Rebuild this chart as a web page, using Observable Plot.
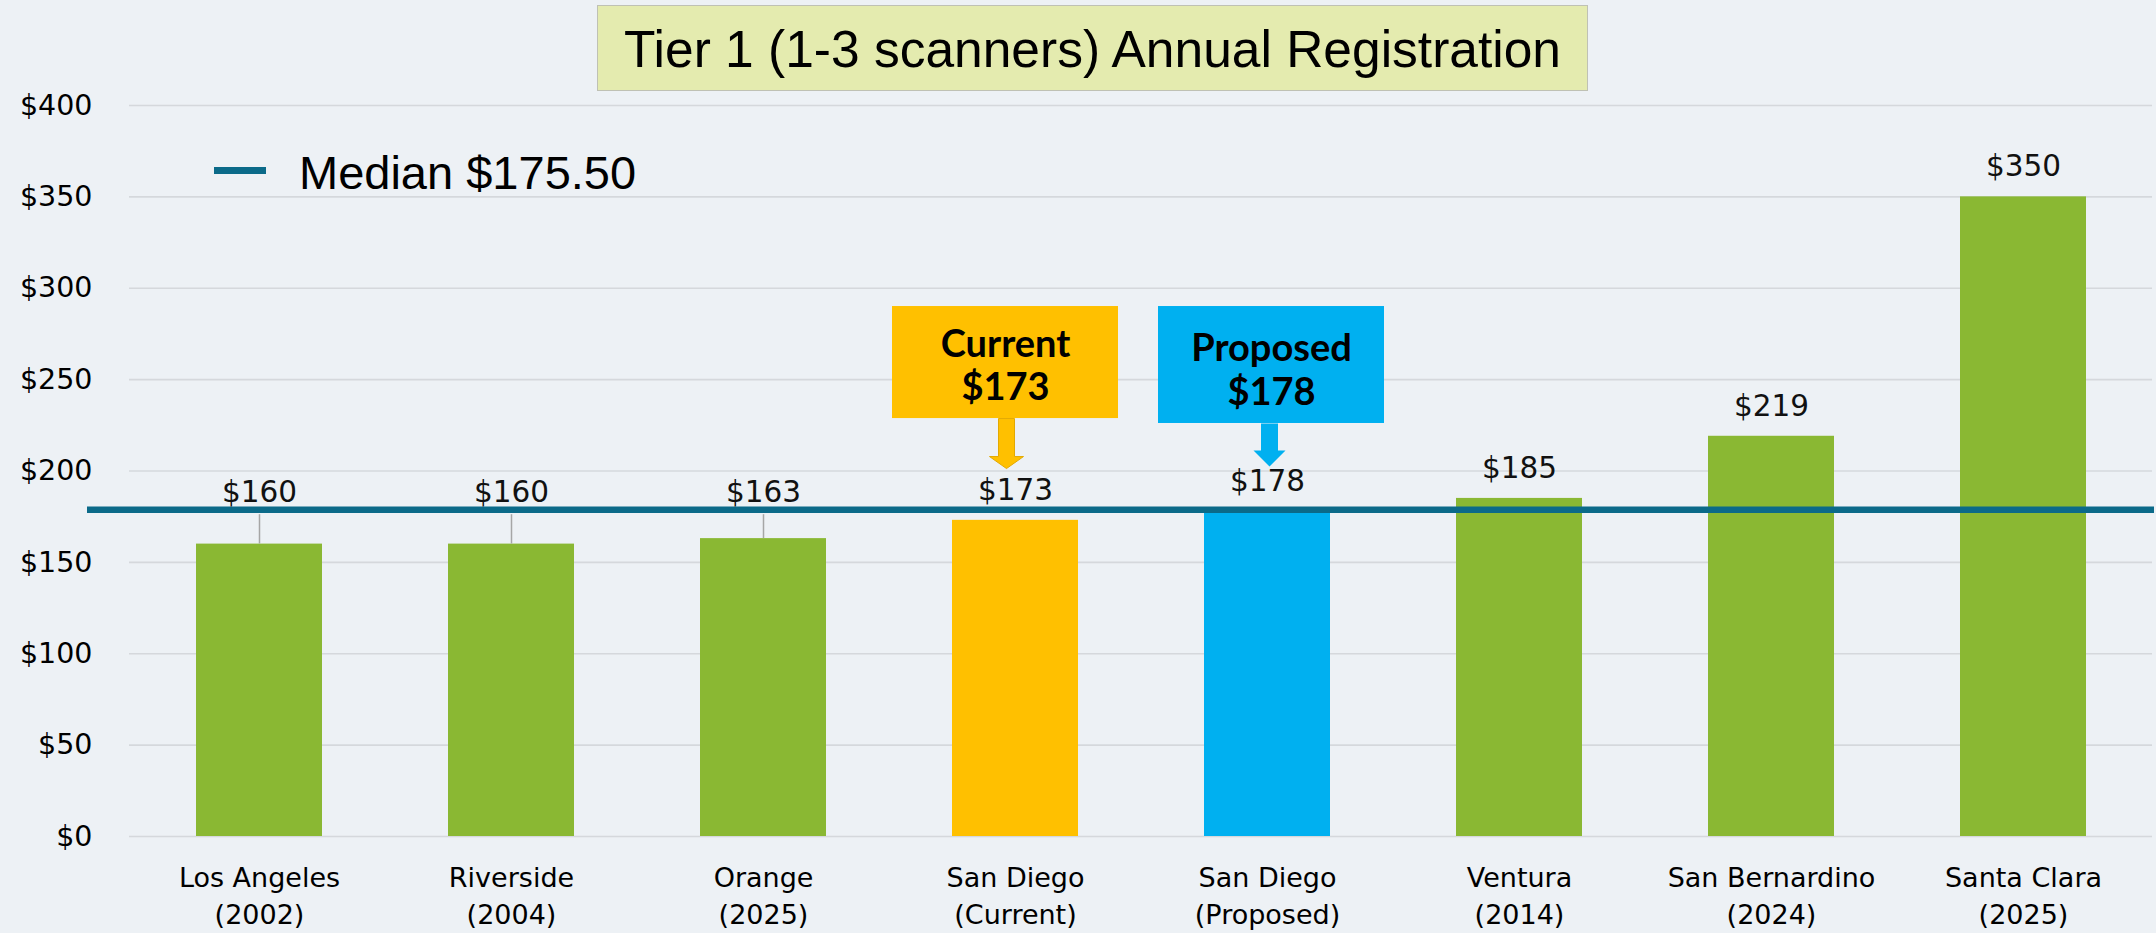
<!DOCTYPE html>
<html>
<head>
<meta charset="utf-8">
<script src="https://cdn.jsdelivr.net/npm/d3@7"></script>
<script src="https://cdn.jsdelivr.net/npm/@observablehq/plot@0.6"></script>
<style>
  html, body { margin: 0; padding: 0; background: #EDF1F5; }
  #wrap { position: relative; width: 2156px; height: 933px; overflow: hidden; background: #EDF1F5; }
  #chart { position: absolute; left: 0; top: 0; }
  #title {
    position: absolute; left: 597px; top: 5px; width: 991px; height: 86px; box-sizing: border-box;
    background: #E4EBAF; border: 1.5px solid #BFC1B4;
    font-family: "Liberation Sans", Arial, sans-serif; font-size: 51.5px; line-height: 87px;
    text-align: center; color: #000; white-space: nowrap;
  }
  #legend { position: absolute; left: 214px; top: 149px; height: 47px; }
  #legend .swatch { position: absolute; left: 0; top: 18px; width: 52px; height: 7px; background: #0B6A89; }
  #legend .lt {
    position: absolute; left: 85px; top: 0; white-space: nowrap;
    font-family: "Liberation Sans", Arial, sans-serif; font-size: 47px; line-height: 47px; color: #000;
  }
</style>
</head>
<body>
<div id="wrap">
  <div id="chart"></div>
  <div id="title"></div>
  <div id="legend"><span class="swatch"></span><span class="lt"></span></div>
</div>
<script>
// ---- data ----
const titleText = "Tier 1 (1-3 scanners) Annual Registration";
const counties = ["Los Angeles", "Riverside", "Orange", "San Diego", "San Diego", "Ventura", "San Bernardino", "Santa Clara"];
const years = ["(2002)", "(2004)", "(2025)", "(Current)", "(Proposed)", "(2014)", "(2024)", "(2025)"];
const fees = [160, 160, 163, 173, 178, 185, 219, 350];
const yTicks = [0, 50, 100, 150, 200, 250, 300, 350, 400];
const medianText = "Median $175.50";
const medianDrawnAt = 178.8;               // where the median line sits in the picture
const leaderLabelled = ["Los Angeles", "Riverside", "Orange"]; // labels lifted above the median line
const calloutTitles = ["Current", "Proposed"];
const calloutIndex = [3, 4];

// ---- styles ----
const green = "#8AB833", yellow = "#FFC000", blue = "#00B0F0", teal = "#0B6A89";
const categories = counties.map((c, i) => c + "\n" + years[i]);
const barFill = (i) => i === 3 ? yellow : i === 4 ? blue : green;
const data = categories.map((c, i) => ({cat: c, county: counties[i], fee: fees[i], fill: barFill(i)}));
const normalLabels = data.filter(d => !leaderLabelled.includes(d.county));
const liftedLabels = data.filter(d => leaderLabelled.includes(d.county));

document.getElementById("title").textContent = titleText;
document.querySelector("#legend .lt").textContent = medianText;

// callout geometry (data units for the box, px for the arrow)
const callouts = calloutIndex.map((k, i) => ({cat: categories[k], title: calloutTitles[i], fee: fees[k], fill: barFill(k)}));
const boxTop = 290, boxBottoms = [228.7, 226];

function blockArrow(len, shaftHalf, headHalf, headLen) {
  return {
    draw(ctx) {
      const s = len - headLen;
      ctx.moveTo(-shaftHalf, 0);
      ctx.lineTo(-shaftHalf, s);
      ctx.lineTo(-headHalf, s);
      ctx.lineTo(0, len);
      ctx.lineTo(headHalf, s);
      ctx.lineTo(shaftHalf, s);
      ctx.lineTo(shaftHalf, 0);
      ctx.closePath();
    }
  };
}

const chart = Plot.plot({
  width: 2156,
  height: 933,
  marginLeft: 129,
  marginRight: 4,
  marginTop: 105,
  marginBottom: 97,
  style: {background: "transparent", fontFamily: "DejaVu Sans, sans-serif", fontSize: "28px", color: "#000", overflow: "visible"},
  x: {domain: categories, paddingInner: 0.5, paddingOuter: 0.25, label: null},
  y: {domain: [0, 400], label: null},
  color: {type: "identity"},
  marks: [
    Plot.ruleY(yTicks, {stroke: "#D5D8DC", strokeWidth: 1.6}),
    Plot.axisY(yTicks, {tickSize: 0, tickPadding: 37, tickFormat: d => "$" + d, fontSize: 28.5, fill: "#000"}),
    Plot.axisX({tickSize: 0, tickPadding: 24, fontSize: 27, lineHeight: 1.38, fill: "#000"}),
    Plot.barY(data, {x: "cat", y: "fee", fill: "fill"}),
    // leader lines for lifted labels
    Plot.ruleX(liftedLabels, {x: "cat", y1: "fee", y2: () => medianDrawnAt - 2.7, stroke: "#A6A6A6", strokeWidth: 1.5}),
    // median line
    Plot.ruleY([medianDrawnAt], {stroke: teal, strokeWidth: 6.5, insetLeft: -42, insetRight: -2}),
    // value labels
    Plot.text(normalLabels, {x: "cat", y: "fee", text: d => "$" + d.fee, dy: -30, fontSize: 29.5, fill: "#111"}),
    Plot.text(liftedLabels, {x: "cat", y: () => medianDrawnAt, text: d => "$" + d.fee, dy: -17, fontSize: 29.5, fill: "#111"}),
    // callout boxes
    Plot.barY([callouts[0]], {x: "cat", y1: boxBottoms[0], y2: boxTop, fill: "fill", insetLeft: -60, insetRight: -40}),
    Plot.barY([callouts[1]], {x: "cat", y1: boxBottoms[1], y2: boxTop, fill: "fill", insetLeft: -46, insetRight: -54}),
    Plot.text([callouts[0]], {x: "cat", y: (boxBottoms[0] + boxTop) / 2, text: d => d.title + "\n$" + d.fee,
      fontFamily: "Lato, sans-serif", fontWeight: "bold", fontSize: 38, lineHeight: 1.14, dx: -10, dy: 2, fill: "#000"}),
    Plot.text([callouts[1]], {x: "cat", y: (boxBottoms[1] + boxTop) / 2, text: d => d.title + "\n$" + d.fee,
      fontFamily: "Lato, sans-serif", fontWeight: "bold", fontSize: 38, lineHeight: 1.14, dx: 4, dy: 4, fill: "#000"}),
    // block arrows
    Plot.dot([callouts[0]], {x: "cat", y: boxBottoms[0], r: 5, symbol: blockArrow(50, 8, 17, 12), fill: "fill", stroke: "#E3A900", strokeWidth: 1, dx: -9}),
    Plot.dot([callouts[1]], {x: "cat", y: boxBottoms[1], r: 5, symbol: blockArrow(43, 8.5, 16, 16), fill: "fill", stroke: "none", dx: 2})
  ]
});
document.getElementById("chart").appendChild(chart);
</script>
</body>
</html>
